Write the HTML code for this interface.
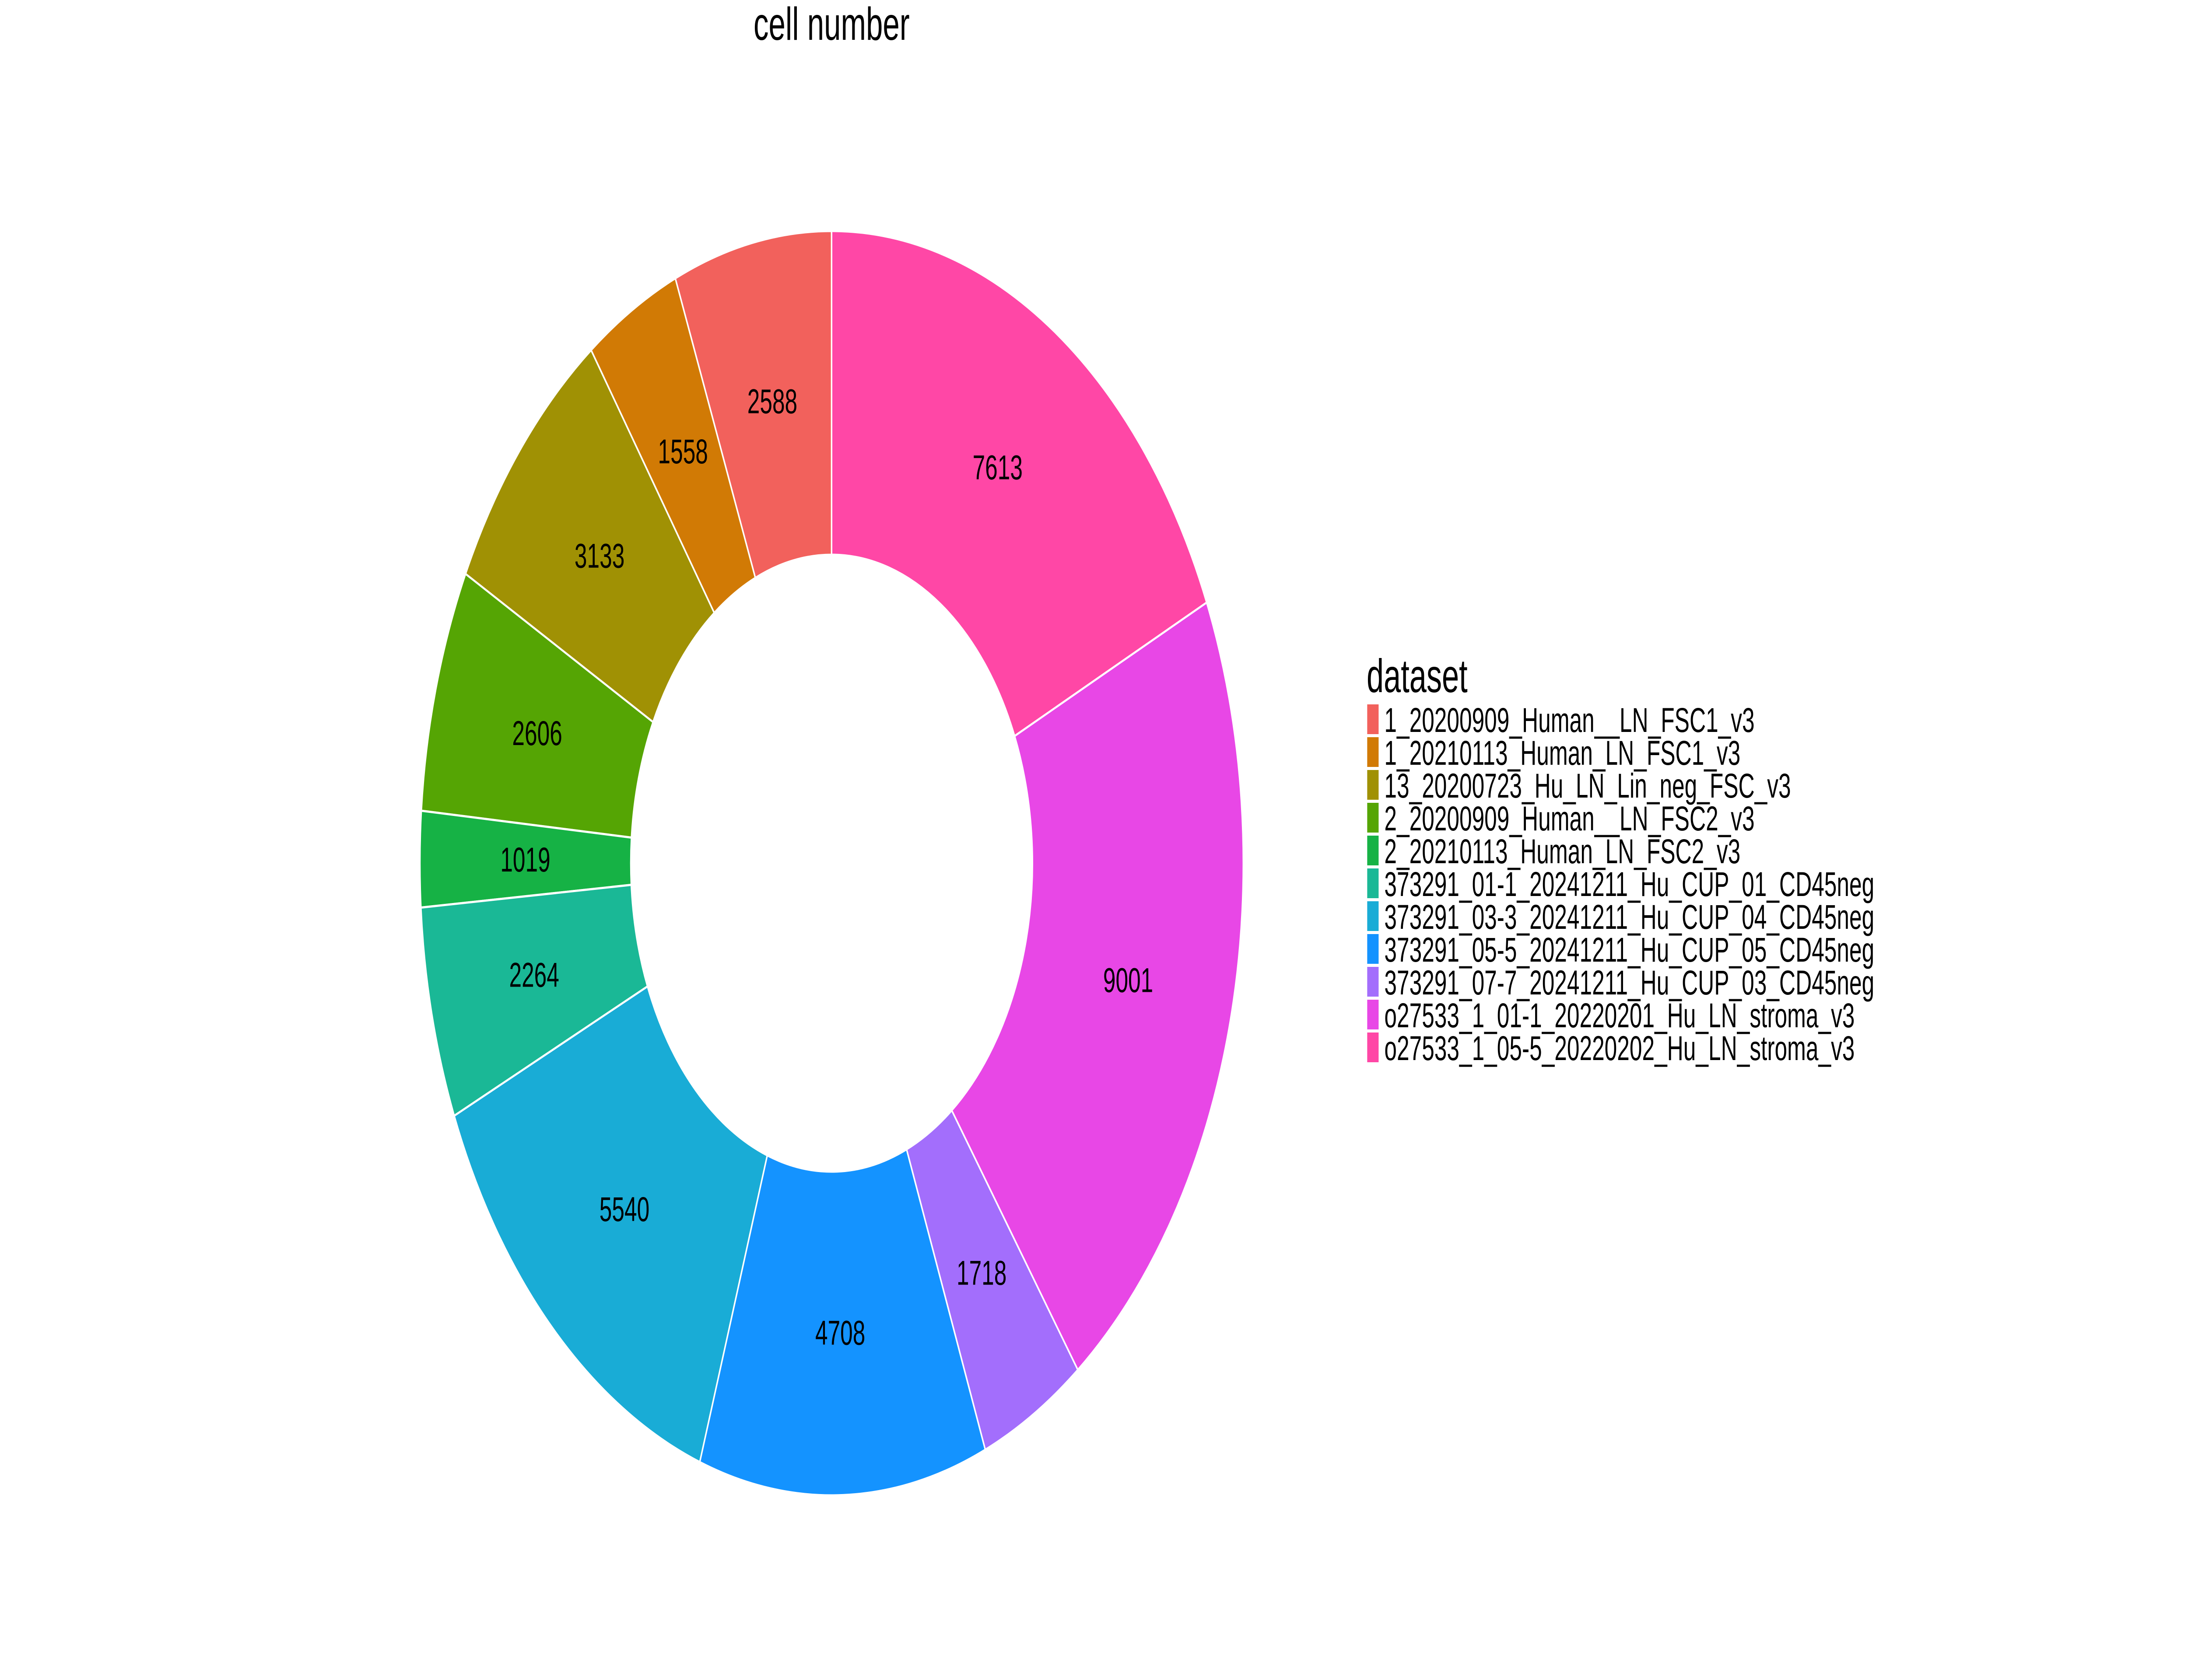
<!DOCTYPE html>
<html><head><meta charset="utf-8"><style>
html,body{margin:0;padding:0;background:#fff;width:100%;height:100%;overflow:hidden;}
svg{display:block;width:100vw;height:100vh;font-family:"Liberation Sans",Arial,sans-serif;}
</style></head><body>
<svg id="chart" viewBox="0 0 7680 3840" preserveAspectRatio="none" xmlns="http://www.w3.org/2000/svg">
<rect x="0" y="0" width="7680" height="3840" fill="#fff"/>
<text x="2919" y="91" font-size="106" text-anchor="middle" fill="#000">cell number</text>
<g id="slices"></g>
<g id="labels"></g>
<g id="legend">
<text x="4797" y="1582" font-size="108" fill="#000">dataset</text>
</g>
</svg>
<script>
const categories = ["1_20200909_Human__LN_FSC1_v3","1_20210113_Human_LN_FSC1_v3","13_20200723_Hu_LN_Lin_neg_FSC_v3","2_20200909_Human__LN_FSC2_v3","2_20210113_Human_LN_FSC2_v3","373291_01-1_20241211_Hu_CUP_01_CD45neg","373291_03-3_20241211_Hu_CUP_04_CD45neg","373291_05-5_20241211_Hu_CUP_05_CD45neg","373291_07-7_20241211_Hu_CUP_03_CD45neg","o27533_1_01-1_20220201_Hu_LN_stroma_v3","o27533_1_05-5_20220202_Hu_LN_stroma_v3"];
const cellCounts = [2588,1558,3133,2606,1019,2264,5540,4708,1718,9001,7613];
const colors = ["#F2615C","#D17A05","#A09104","#55A504","#16B245","#1AB896","#19ACD6","#1493FF","#A36EFC","#E847E6","#FF47A6"];

const NS="http://www.w3.org/2000/svg";
const cx=2919, cy=1973, rOut=1445, rIn=705, rLab=(rOut+rIn)/2;
const total=cellCounts.reduce((a,b)=>a+b,0);
function angle(v){return v/total*2*Math.PI;}
function px(r,t){return cx - r*Math.sin(t);}
function py(r,t){return cy - r*Math.cos(t);}
const gS=document.getElementById('slices'), gL=document.getElementById('labels'), gLeg=document.getElementById('legend');
let cum=0;
cellCounts.forEach((v,i)=>{
  const t0=angle(cum), t1=angle(cum+v); cum+=v;
  const large=(t1-t0)>Math.PI?1:0;
  const d=`M${px(rOut,t0)},${py(rOut,t0)} A${rOut},${rOut} 0 ${large} 0 ${px(rOut,t1)},${py(rOut,t1)} L${px(rIn,t1)},${py(rIn,t1)} A${rIn},${rIn} 0 ${large} 1 ${px(rIn,t0)},${py(rIn,t0)} Z`;
  const p=document.createElementNS(NS,'path');
  p.setAttribute('d',d);p.setAttribute('fill',colors[i]);p.setAttribute('stroke','#fff');p.setAttribute('stroke-width','5');
  
  
  gS.appendChild(p);
  const tm=(t0+t1)/2;
  const tx=document.createElementNS(NS,'text');
  tx.setAttribute('x',px(rLab,tm));tx.setAttribute('y',py(rLab,tm));
  tx.setAttribute('font-size','79');tx.setAttribute('text-anchor','middle');tx.setAttribute('dominant-baseline','central');
  tx.textContent=v;
  
  
  gL.appendChild(tx);
  const y0=1610+i*75;
  const k=document.createElementNS(NS,'rect');
  k.setAttribute('x',4799);k.setAttribute('y',y0);k.setAttribute('width',40);k.setAttribute('height',68);k.setAttribute('fill',colors[i]);
  
  
  gLeg.appendChild(k);
  const lt=document.createElementNS(NS,'text');
  lt.setAttribute('x',4859);lt.setAttribute('y',y0+63);lt.setAttribute('font-size','79');
  lt.textContent=categories[i];
  
  
  gLeg.appendChild(lt);
});
</script>
</body></html>
